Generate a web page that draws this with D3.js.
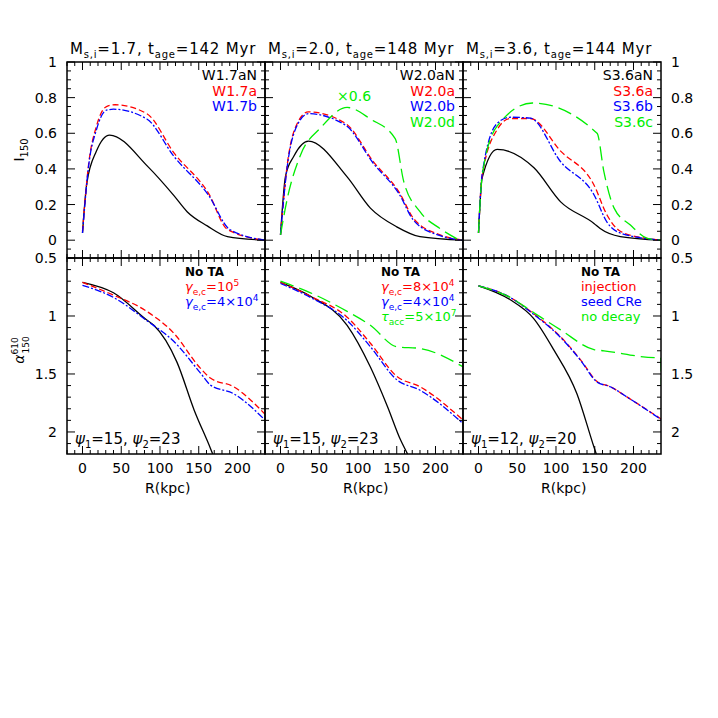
<!DOCTYPE html>
<head>
  <meta charset="utf-8">
  <script src="https://cdn.jsdelivr.net/npm/d3@7"></script>
  <style>
    body { margin: 0; background: #fff; }
    text { font-family: "DejaVu Sans", sans-serif; }
  </style>
</head>
<body>
<script>
// [R (kpc), value] pairs
var i1_black = [[0,0.04],[5.6,0.32],[18,0.5],[35,0.59],[85,0.41],[118,0.25],[135,0.16],[161,0.08],[187,0.02],[236,0]]
var i1_red = [[0,0.05],[8,0.43],[18,0.64],[31,0.75],[42,0.76],[83,0.71],[118,0.49],[163,0.26],[187,0.06],[236,0]]
var i1_blue = [[0,0.04],[8,0.42],[18,0.62],[31,0.73],[40,0.735],[83,0.68],[118,0.47],[163,0.25],[190,0.06],[236,0]]

var i2_black = [[0,0.03],[6.5,0.36],[17,0.47],[36,0.556],[86,0.355],[116,0.18],[150,0.075],[180,0.02],[236,0]]
var i2_red = [[0,0.03],[8.6,0.42],[19,0.63],[36,0.72],[84,0.655],[120,0.44],[153,0.27],[172,0.12],[206,0.03],[236,0]]
var i2_blue = [[0,0.03],[8.6,0.41],[19,0.62],[36,0.71],[84,0.645],[120,0.43],[153,0.26],[172,0.11],[206,0.025],[236,0]]
var i2_green = [[0,0.03],[8.6,0.23],[26,0.48],[51.6,0.63],[86,0.745],[116,0.68],[148,0.57],[159,0.33],[180,0.16],[206,0.065],[231,0]]

var i3_black = [[0,0.04],[4.7,0.35],[24,0.51],[71.6,0.406],[106,0.215],[149,0.094],[157,0.065],[183,0.02],[236,0]]
var i3_red = [[0,0.04],[4.7,0.36],[24,0.62],[41,0.683],[67,0.683],[106,0.5],[149,0.31],[166,0.14],[183,0.05],[213,0.013],[236,0]]
var i3_blue = [[0,0.04],[4.7,0.37],[24,0.655],[41,0.69],[67,0.685],[106,0.44],[149,0.255],[166,0.1],[183,0.04],[236,0]]
var i3_green = [[0,0.04],[4.7,0.36],[24,0.64],[69.7,0.77],[153,0.6],[162,0.38],[175,0.18],[196,0.085],[218,0.01],[236,0]]

var a1_black = [[0,0.71],[40,0.8],[83,1.035],[92,1.08],[122,1.4],[144,1.81],[165,2.14],[168,2.19]]
var a1_red = [[0,0.71],[40,0.82],[83,0.96],[118,1.15],[152,1.45],[165,1.535],[195,1.61],[236,1.85]]
var a1_blue = [[0,0.735],[40,0.84],[83,1.04],[118,1.22],[152,1.49],[165,1.595],[195,1.67],[236,1.9]]

var a2_black = [[0,0.71],[38.7,0.83],[86,1.08],[116,1.44],[138,1.78],[155,2.07],[164,2.19]]
var a2_red = [[0,0.71],[38.7,0.83],[86,1.01],[116,1.235],[150,1.52],[180,1.61],[236,1.9]]
var a2_blue = [[0,0.72],[38.7,0.84],[86,1.04],[116,1.265],[150,1.55],[180,1.64],[236,1.93]]
var a2_green = [[0,0.7],[38.7,0.8],[86,0.96],[116,1.08],[150,1.265],[180,1.28],[236,1.44]]

var a3_black = [[0,0.74],[41,0.86],[71,1.02],[97,1.29],[127,1.67],[149,2.13],[152,2.19]]
var a3_red = [[0,0.74],[41,0.84],[71,0.98],[106,1.18],[132,1.38],[153,1.565],[170,1.61],[192,1.7],[236,1.89]]
var a3_blue = [[0,0.74],[41,0.84],[71,0.985],[106,1.185],[132,1.385],[153,1.57],[170,1.61],[192,1.7],[236,1.895]]
var a3_green = [[0,0.74],[41,0.84],[71,0.97],[106,1.12],[149,1.29],[162,1.3],[231,1.36],[235,1.36],[236,1.6]]

var titles = [["1.7","142"],["2.0","148"],["3.6","144"]]
var legendTop = [["W1.7aN","W1.7a","W1.7b"],["W2.0aN","W2.0a","W2.0b","W2.0d"],["S3.6aN","S3.6a","S3.6b","S3.6c"]]
var psiLabels = [["15","23"],["15","23"],["12","20"]]
var xTicks = [0,50,100,150,200]
var topTicks = [0,0.2,0.4,0.6,0.8,1]
var botTicks = [0.5,1,1.5,2]

var colors = {black:"#000", red:"#ff0000", blue:"#0000ff", green:"#00ee00"}
var dashes = {black:null, red:"6,3", blue:"7,2,2,2", green:"14,6"}

var topSeries = [
  [["black",i1_black],["red",i1_red],["blue",i1_blue]],
  [["black",i2_black],["red",i2_red],["blue",i2_blue],["green",i2_green]],
  [["black",i3_black],["red",i3_red],["blue",i3_blue],["green",i3_green]]
]
var botSeries = [
  [["black",a1_black],["red",a1_red],["blue",a1_blue]],
  [["black",a2_black],["red",a2_red],["blue",a2_blue],["green",a2_green]],
  [["black",a3_black],["red",a3_red],["blue",a3_blue],["green",a3_green]]
]

var svg = d3.select("body").append("svg").attr("width", 718).attr("height", 718)

var left0 = 67, pw = 198
var x = d3.scaleLinear().domain([-20, 235.5]).range([0, pw])
var yTop = d3.scaleLinear().domain([-0.1, 1]).range([258, 62])
var yBot = d3.scaleLinear().domain([0.5, 2.19]).range([258, 454])

function drawPanel(p, yScale, series, minorStep, majorTicks, isBottom) {
  var ox = left0 + p * pw
  var g = svg.append("g").attr("transform", "translate(" + ox + ",0)")
  var y0 = yScale.range()[0], y1 = yScale.range()[1]
  var yt = Math.min(y0, y1), yb = Math.max(y0, y1)

  var clipId = "clip" + p + (isBottom ? "b" : "t")
  g.append("clipPath").attr("id", clipId).append("rect")
    .attr("x", 0).attr("y", yt).attr("width", pw).attr("height", yb - yt)

  var line = d3.line().curve(d3.curveMonotoneX)
    .x(function(d) { return x(d[0]) }).y(function(d) { return yScale(d[1]) })
  series.forEach(function(s) {
    g.append("path").datum(s[1])
      .attr("clip-path", "url(#" + clipId + ")")
      .attr("fill", "none")
      .attr("stroke", colors[s[0]])
      .attr("stroke-width", 1.3)
      .attr("stroke-dasharray", dashes[s[0]])
      .attr("d", line)
  })

  // frame
  g.append("rect").attr("x", 0).attr("y", yt).attr("width", pw).attr("height", yb - yt)
    .attr("fill", "none").attr("stroke", "#000").attr("stroke-width", 1.5)

  // x ticks top and bottom
  d3.range(-20, 236, 10).forEach(function(v) {
    var major = v % 50 === 0
    var len = major ? 8 : 4
    g.append("line").attr("x1", x(v)).attr("x2", x(v)).attr("y1", yt).attr("y2", yt + len).attr("stroke", "#000")
    g.append("line").attr("x1", x(v)).attr("x2", x(v)).attr("y1", yb).attr("y2", yb - len).attr("stroke", "#000")
  })
  // y ticks both sides
  var dom = yScale.domain()
  var lo = Math.min(dom[0], dom[1]), hi = Math.max(dom[0], dom[1])
  d3.range(Math.ceil(lo / minorStep - 1e-6) * minorStep, hi + 1e-6, minorStep).forEach(function(v) {
    var major = majorTicks.some(function(m) { return Math.abs(m - v) < 1e-6 })
    var len = major ? 8 : 4
    var yy = yScale(v)
    g.append("line").attr("x1", 0).attr("x2", len).attr("y1", yy).attr("y2", yy).attr("stroke", "#000")
    g.append("line").attr("x1", pw).attr("x2", pw - len).attr("y1", yy).attr("y2", yy).attr("stroke", "#000")
  })

  // y tick labels
  if (p === 0 || p === 2) {
    majorTicks.forEach(function(v) {
      g.append("text")
        .attr("x", p === 0 ? -10 : pw + 10)
        .attr("y", yScale(v) + 5)
        .attr("text-anchor", p === 0 ? "end" : "start")
        .style("font-size", "14px")
        .text(v)
    })
  }

  if (isBottom) {
    xTicks.forEach(function(v) {
      g.append("text").attr("x", x(v)).attr("y", yb + 19)
        .attr("text-anchor", "middle").style("font-size", "14px").text(v)
    })
    g.append("text").attr("x", x(110)).attr("y", yb + 39)
      .attr("text-anchor", "middle").style("font-size", "14px").text("R(kpc)")
    var pt = g.append("text").attr("x", 8).attr("y", yb - 10).style("font-size", "15px")
    pt.append("tspan").style("font-style", "italic").text("ψ")
    pt.append("tspan").attr("dy", 4).style("font-size", "10px").text("1")
    pt.append("tspan").attr("dy", -4).text("=" + psiLabels[p][0] + ", ")
    pt.append("tspan").style("font-style", "italic").text("ψ")
    pt.append("tspan").attr("dy", 4).style("font-size", "10px").text("2")
    pt.append("tspan").attr("dy", -4).text("=" + psiLabels[p][1])
  }
  return g
}

for (var p = 0; p < 3; p++) {
  var gt = drawPanel(p, yTop, topSeries[p], 0.05, topTicks, false)
  var gb = drawPanel(p, yBot, botSeries[p], 0.1, botTicks, true)

  // title
  var t = svg.append("text").attr("x", left0 + p * pw + 3).attr("y", 54)
    .style("font-size", "15px").style("letter-spacing", "0.8px")
  t.append("tspan").text("M")
  t.append("tspan").attr("dy", 4).style("font-size", "10px").text("s,i")
  t.append("tspan").attr("dy", -4).text("=" + titles[p][0] + ", t")
  t.append("tspan").attr("dy", 4).style("font-size", "10px").text("age")
  t.append("tspan").attr("dy", -4).text("=" + titles[p][1] + " Myr")

  // top legends
  var cols = ["black", "red", "blue", "green"]
  legendTop[p].forEach(function(s, i) {
    gt.append("text").attr("x", pw - 8).attr("y", 80 + i * 15.5)
      .attr("text-anchor", "end").style("font-size", "14px")
      .attr("fill", colors[cols[i]]).text(s)
  })
}

// x0.6 label
svg.append("text").attr("x", left0 + pw + x(95)).attr("y", 101)
  .attr("text-anchor", "middle").style("font-size", "14px").attr("fill", colors.green).text("×0.6")

// bottom legends
function subLine(g, xx, yy, col, main, sub, rest, sup) {
  var tx = g.append("text").attr("x", xx).attr("y", yy).attr("fill", col).style("font-size", "13px")
  tx.append("tspan").style("font-style", "italic").text(main)
  tx.append("tspan").attr("dy", 4).style("font-size", "9px").text(sub)
  tx.append("tspan").attr("dy", -4).text(rest)
  if (sup) tx.append("tspan").attr("dy", -5).style("font-size", "9px").text(sup)
}
var bl = [left0 + 118, left0 + pw + 116, left0 + 2 * pw + 118]
svg.append("text").attr("x", bl[0]).attr("y", 276).style("font-size", "12px").style("font-weight", "bold").text("No TA")
subLine(svg, bl[0], 291, colors.red, "γ", "e,c", "=10", "5")
subLine(svg, bl[0], 306, colors.blue, "γ", "e,c", "=4×10", "4")
svg.append("text").attr("x", bl[1]).attr("y", 276).style("font-size", "12px").style("font-weight", "bold").text("No TA")
subLine(svg, bl[1], 291, colors.red, "γ", "e,c", "=8×10", "4")
subLine(svg, bl[1], 306, colors.blue, "γ", "e,c", "=4×10", "4")
subLine(svg, bl[1], 321, colors.green, "τ", "acc", "=5×10", "7")
svg.append("text").attr("x", bl[2]).attr("y", 276).style("font-size", "12px").style("font-weight", "bold").text("No TA")
var lg3 = [["injection", colors.red], ["seed CRe", colors.blue], ["no decay", colors.green]]
lg3.forEach(function(d, i) {
  svg.append("text").attr("x", bl[2]).attr("y", 291 + 15 * i).attr("fill", d[1])
    .style("font-size", "13px").text(d[0])
})

// y axis labels
var yl1 = svg.append("text").attr("transform", "translate(24,150) rotate(-90)")
  .attr("text-anchor", "middle").style("font-size", "14px")
yl1.append("tspan").text("I")
yl1.append("tspan").attr("dy", 4).style("font-size", "10px").text("150")

var yl2 = svg.append("text").attr("transform", "translate(24,350) rotate(-90)")
  .attr("text-anchor", "middle").style("font-size", "14px")
yl2.append("tspan").style("font-style", "italic").text("α")
yl2.append("tspan").attr("dy", -6).style("font-size", "9px").text("610")
yl2.append("tspan").attr("dx", -16).attr("dy", 11).style("font-size", "9px").text("150")
</script>
</body>
